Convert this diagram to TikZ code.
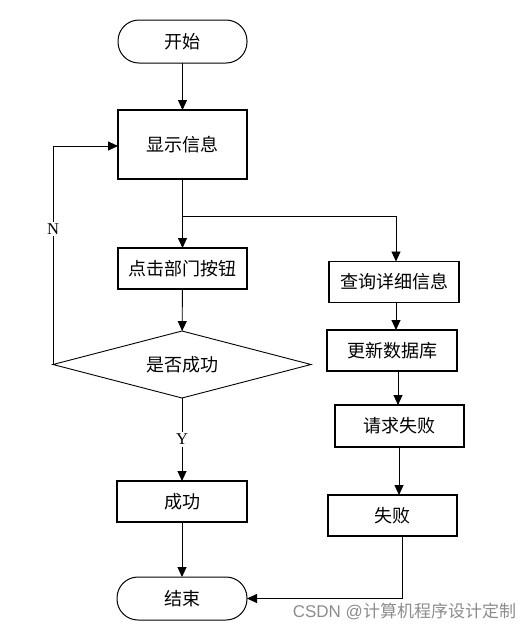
\documentclass[tikz,border=0pt]{standalone}
\usepackage{fontspec}
\setmainfont{Liberation Serif}
\newfontfamily\cjk{Noto Sans CJK SC}
\newfontfamily\wmfont{Liberation Sans}
\usetikzlibrary{arrows.meta,shapes.geometric}
\begin{document}
\begin{tikzpicture}[x=1pt,y=-1pt,
  every node/.style={inner sep=0pt,outer sep=0pt},
  box/.style={draw,line width=1.1pt,rectangle,minimum width=#1,font=\cjk\fontsize{18}{21}\selectfont},
  term/.style={draw,line width=1pt,rectangle,rounded corners=21pt,minimum width=129pt,minimum height=43pt,font=\cjk\fontsize{18}{21}\selectfont},
  dec/.style={draw,line width=0.9pt,diamond,aspect=3.85,minimum width=258pt,minimum height=67pt,font=\cjk\fontsize{18}{21}\selectfont},
  arr/.style={line width=0.9pt,-{Triangle[length=10pt,width=9pt]}},
  lab/.style={fill=white,inner sep=2pt,font=\fontsize{16.5}{18}\selectfont}]
\useasboundingbox (0,0) rectangle (531,633);
\node[term] (start) at (182.5,41.5) {开始};
\node[box=129pt,minimum height=69pt] (show) at (182.5,144.5) {显示信息};
\node[box=129pt,minimum height=41pt] (click) at (182.5,268.5) {点击部门按钮};
\node[dec] (ok) at (182,364.5) {是否成功};
\node[box=130pt,minimum height=41pt] (succ) at (182,501.5) {成功};
\node[term,minimum width=130pt] (end) at (182,598.5) {结束};
\node[box=130pt,minimum height=41pt] (query) at (394,282) {查询详细信息};
\node[box=130pt,minimum height=41pt] (upd) at (392,350.5) {更新数据库};
\node[box=129pt,minimum height=42pt] (req) at (399.5,426) {请求失败};
\node[box=129pt,minimum height=41pt] (fail) at (392.5,515.5) {失败};
\coordinate (br) at (182.5,216);
\coordinate (brR) at (396,216);
\coordinate (nl) at (53,146);
\draw[arr] (start) -- (show);
\draw[arr] (show) -- (click);
\draw[arr] (click) -- (ok);
\draw[arr] (ok.south) -- node[lab,pos=0.5]{Y} (succ.north);
\draw[arr] (succ) -- (end);
\draw[line width=0.9pt] (show.south) -- (br);
\draw[arr] (br) -- (brR) -- (brR |- query.north);
\draw[arr] (ok.west) -- node[lab,pos=0.62]{N} (nl) -- (show.west |- nl);
\draw[arr] (396,302.5) -- (396,330);
\draw[arr] (398,371) -- (398,405);
\draw[arr] (399,447) -- (399,495);
\draw[arr] (402,536) -- (402,598.5) -- (end.east);
\node[anchor=east,text=black!45,font=\wmfont\fontsize{17}{19}\selectfont] (wm) at (516,611) {CSDN @{\cjk 计算机程序设计定制}};
\end{tikzpicture}
\end{document}
